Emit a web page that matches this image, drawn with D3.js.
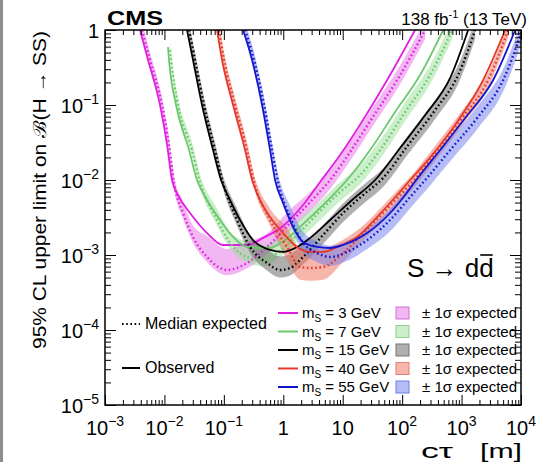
<!DOCTYPE html>
<html><head><meta charset="utf-8">
<script src="https://cdn.jsdelivr.net/npm/d3@7"></script>
<style>body{margin:0;background:#fff}svg{display:block}</style>
</head><body>
<svg id="chart" width="543" height="462"></svg>
<script>
// Limits on B(H->SS) versus c*tau, S -> d dbar, one set per scalar mass
const masses = ["3", "7", "15", "40", "55"];
const lineColors = ["#e21ee2", "#6cc86c", "#000000", "#e6382c", "#1515d0"];
const bandColors = ["rgba(230,110,230,0.5)", "rgba(150,223,150,0.5)", "rgba(110,110,110,0.55)", "rgba(238,110,87,0.5)", "rgba(110,123,238,0.5)"];
const bandStroke = ["#d070d0", "#90d090", "#777777", "#e08070", "#7080e0"];
const xTickLabels = [["10", "−3"], ["10", "−2"], ["10", "−1"], ["1", ""], ["10", ""], ["10", "2"], ["10", "3"], ["10", "4"]];
const yTickLabels = [["10", "−5"], ["10", "−4"], ["10", "−3"], ["10", "−2"], ["10", "−1"], ["1", ""]];

// m_S = 3 GeV
const ctObs3 = [0.00388, 0.0053, 0.00843, 0.0111, 0.0134, 0.0169, 0.027, 0.0522, 0.0969, 0.246, 0.457, 0.992, 2.15, 4.16, 9.04, 22.0, 55.9, 165];
const obs3 = [1, 0.398, 0.1, 0.0293, 0.01, 0.00631, 0.00363, 0.00196, 0.00136, 0.00136, 0.00169, 0.00244, 0.00464, 0.0094, 0.0215, 0.0631, 0.215, 1];
const ctExp3 = [0.0042, 0.00572, 0.00911, 0.01195, 0.0145, 0.0206, 0.0303, 0.0522, 0.113, 0.246, 0.534, 1.30, 3.05, 6.14, 13.3, 31.3, 82.4, 244];
const exp3 = [1, 0.398, 0.1, 0.0293, 0.00912, 0.00363, 0.00174, 0.00094, 0.000631, 0.000782, 0.00128, 0.00267, 0.00541, 0.01, 0.0236, 0.0671, 0.215, 1];
const lo3 = [0.832, 0.331, 0.0832, 0.0244, 0.00759, 0.00302, 0.00145, 0.0008, 0.000537, 0.000665, 0.00102, 0.00212, 0.00411, 0.00759, 0.0179, 0.0509, 0.1635, 0.759];
const hi3 = [1.26, 0.501, 0.126, 0.0369, 0.0115, 0.00513, 0.00246, 0.00179, 0.0012, 0.00149, 0.00194, 0.00404, 0.0073, 0.0135, 0.0318, 0.0905, 0.291, 1.35];

// m_S = 7 GeV
const ctObs7 = [0.0115, 0.01195, 0.01568, 0.02595, 0.03538, 0.05215, 0.0863, 0.1429, 0.2458, 0.5995, 1.072, 2.328, 5.679, 11.86, 28.93, 76.2, 200.9, 490];
const obs7 = [0.593, 0.398, 0.1, 0.0251, 0.01, 0.00541, 0.00293, 0.00174, 0.00128, 0.00124, 0.00158, 0.00275, 0.00541, 0.01, 0.0251, 0.0807, 0.2512, 1];
const ctExp7 = [0.01243, 0.01292, 0.01694, 0.02915, 0.03975, 0.07685, 0.1272, 0.2458, 0.4571, 0.8835, 1.918, 4.164, 9.04, 19.63, 42.63, 112.3, 296.1, 694.9];
const exp7 = [0.541, 0.398, 0.1, 0.0251, 0.0094, 0.00293, 0.00145, 0.00094, 0.000858, 0.00113, 0.00203, 0.00386, 0.00692, 0.01166, 0.0251, 0.0807, 0.2512, 1];
const lo7 = [0.45, 0.331, 0.0832, 0.0209, 0.00782, 0.00244, 0.00121, 0.000782, 0.000714, 0.00094, 0.00161, 0.00293, 0.00525, 0.00885, 0.0191, 0.0613, 0.191, 0.759];
const hi7 = [0.681, 0.501, 0.126, 0.0316, 0.01183, 0.00414, 0.00205, 0.00149, 0.00136, 0.00179, 0.00307, 0.00521, 0.00934, 0.01573, 0.0339, 0.1089, 0.339, 1.349];

// m_S = 15 GeV
const ctObs15 = [0.02402, 0.0303, 0.04295, 0.06579, 0.0897, 0.1272, 0.1874, 0.3102, 0.5995, 0.9922, 1.708, 2.827, 6.137, 14.39, 35.12, 92.5, 243.9, 642.9, 1292];
const obs15 = [1, 0.398, 0.1, 0.0251, 0.01, 0.00541, 0.00293, 0.00158, 0.00117, 0.0011, 0.00128, 0.00169, 0.00293, 0.00541, 0.01, 0.0267, 0.0736, 0.2291, 1];
const ctExp15 = [0.02595, 0.03274, 0.04642, 0.07112, 0.0969, 0.1668, 0.2762, 0.5337, 0.8835, 1.302, 2.154, 4.677, 10.15, 22.05, 47.86, 126.2, 359.4, 876.6, 1694];
const exp15 = [1, 0.398, 0.1, 0.0251, 0.00912, 0.00293, 0.00128, 0.000782, 0.000631, 0.000671, 0.00094, 0.00185, 0.00363, 0.00631, 0.01063, 0.0293, 0.0858, 0.2512, 1];
const lo15 = [0.832, 0.331, 0.0832, 0.0209, 0.00759, 0.00244, 0.00106, 0.000621, 0.000501, 0.000533, 0.000746, 0.0014, 0.00276, 0.00479, 0.00807, 0.0222, 0.0651, 0.191, 0.759];
const hi15 = [1.259, 0.501, 0.126, 0.0316, 0.01148, 0.00414, 0.00181, 0.00118, 0.000955, 0.00102, 0.00142, 0.0025, 0.0049, 0.00851, 0.01434, 0.0395, 0.1157, 0.339, 1.349];

// m_S = 40 GeV
const ctObs40 = [0.07685, 0.0933, 0.1429, 0.2275, 0.2984, 0.4068, 0.5995, 0.9922, 1.708, 2.827, 4.677, 8.05, 17.48, 37.94, 82.4, 136.4, 320, 843.3, 2310, 5420];
const obs40 = [1, 0.398, 0.1, 0.0251, 0.01, 0.00541, 0.00321, 0.00196, 0.00128, 0.0011, 0.0011, 0.00128, 0.00174, 0.00321, 0.00631, 0.01, 0.0215, 0.0593, 0.2154, 1];
const ctExp40 = [0.08305, 0.1008, 0.1544, 0.2458, 0.3224, 0.5995, 1.159, 1.918, 2.827, 4.677, 10.15, 22.05, 47.86, 92.5, 159.2, 373.6, 1024, 2805, 6088];
const exp40 = [1, 0.398, 0.1, 0.0251, 0.0094, 0.00293, 0.00128, 0.000692, 0.000671, 0.000692, 0.00106, 0.00196, 0.00363, 0.00631, 0.01, 0.0236, 0.0671, 0.2154, 1];
const lo40 = [0.832, 0.331, 0.0832, 0.0209, 0.00782, 0.00244, 0.000865, 0.000468, 0.000454, 0.000468, 0.000805, 0.00156, 0.00288, 0.00501, 0.00794, 0.0187, 0.0533, 0.171, 0.794];
const hi40 = [1.259, 0.501, 0.126, 0.0316, 0.01183, 0.00414, 0.00228, 0.00123, 0.00119, 0.00123, 0.0016, 0.00247, 0.00457, 0.00794, 0.01259, 0.0297, 0.0845, 0.271, 1.259];

// m_S = 55 GeV
const ctObs55 = [0.2105, 0.2984, 0.4397, 0.5995, 0.7278, 0.9922, 1.462, 2.154, 3.707, 6.137, 10.15, 25.76, 62.8, 112.3, 172.0, 436.3, 1150, 3404, 7989];
const obs55 = [1, 0.398, 0.1, 0.0251, 0.01, 0.00494, 0.00236, 0.00149, 0.00128, 0.00124, 0.00136, 0.00196, 0.00363, 0.00631, 0.01, 0.0251, 0.0671, 0.2154, 1];
const ctExp55 = [0.2275, 0.3224, 0.4752, 0.6479, 0.8176, 1.302, 2.154, 3.707, 6.137, 11.86, 25.76, 62.8, 136.4, 243.9, 642.9, 1831, 5016, 10480];
const exp55 = [1, 0.398, 0.1, 0.0251, 0.0094, 0.00321, 0.00145, 0.00106, 0.00094, 0.0011, 0.00158, 0.00293, 0.00593, 0.01, 0.0251, 0.0671, 0.2154, 1];
const lo55 = [0.832, 0.331, 0.0832, 0.0209, 0.00782, 0.00267, 0.0011, 0.000805, 0.000713, 0.000835, 0.0012, 0.00207, 0.0042, 0.00708, 0.0178, 0.0475, 0.1525, 0.708];
const hi55 = [1.259, 0.501, 0.126, 0.0316, 0.01183, 0.00454, 0.00205, 0.0015, 0.00133, 0.00155, 0.00223, 0.00414, 0.00838, 0.01413, 0.0355, 0.0948, 0.304, 1.413];

const series = [
  {ctObs: ctObs3, obs: obs3, ctExp: ctExp3, exp: exp3, lo: lo3, hi: hi3},
  {ctObs: ctObs7, obs: obs7, ctExp: ctExp7, exp: exp7, lo: lo7, hi: hi7},
  {ctObs: ctObs15, obs: obs15, ctExp: ctExp15, exp: exp15, lo: lo15, hi: hi15},
  {ctObs: ctObs40, obs: obs40, ctExp: ctExp40, exp: exp40, lo: lo40, hi: hi40},
  {ctObs: ctObs55, obs: obs55, ctExp: ctExp55, exp: exp55, lo: lo55, hi: hi55}
];

const FONT = "'Liberation Sans', Arial, Helvetica, sans-serif";
const svg = d3.select("#chart");
const L = 105, R = 521, T = 30, B = 405;

const x = d3.scaleLog().domain([1e-3, 1e4]).range([L, R]);
const y = d3.scaleLog().domain([1e-5, 1]).range([B, T]);

// thin grey strip at the left edge
svg.append("rect").attr("x", 0).attr("y", 0).attr("width", 3).attr("height", 462).attr("fill", "#8e8e8e");

svg.append("clipPath").attr("id", "plotclip").append("rect")
  .attr("x", L).attr("y", T).attr("width", R - L).attr("height", B - T);
const plot = svg.append("g").attr("clip-path", "url(#plotclip)");

const area = d3.area().x(d => x(d.c)).y0(d => y(d.lo)).y1(d => y(d.hi)).curve(d3.curveMonotoneX);
const line = d3.line().x(d => x(d[0])).y(d => y(d[1])).curve(d3.curveMonotoneX);

// +-1 sigma bands
series.forEach((s, i) => {
  const pts = s.ctExp.map((c, k) => ({c: c, lo: s.lo[k], hi: s.hi[k]}));
  plot.append("path").attr("d", area(pts)).attr("fill", bandColors[i]).attr("stroke", "none");
});
// median expected (dotted) and observed (solid)
series.forEach((s, i) => {
  plot.append("path").attr("d", line(s.ctExp.map((c, k) => [c, s.exp[k]])))
    .attr("fill", "none").attr("stroke", lineColors[i]).attr("stroke-width", 2.4)
    .attr("stroke-dasharray", "1.6,2.6").attr("stroke-linecap", "butt");
  plot.append("path").attr("d", line(s.ctObs.map((c, k) => [c, s.obs[k]])))
    .attr("fill", "none").attr("stroke", lineColors[i]).attr("stroke-width", 1.8);
});

// axes: ticks on all four sides
const decadesX = d3.range(-3, 5).map(e => Math.pow(10, e));
const decadesY = d3.range(-5, 1).map(e => Math.pow(10, e));
const minorX = [], minorY = [];
d3.range(-3, 4).forEach(e => { for (let m = 2; m <= 9; m++) minorX.push(m * Math.pow(10, e)); });
d3.range(-5, 0).forEach(e => { for (let m = 2; m <= 9; m++) minorY.push(m * Math.pow(10, e)); });

function tickAxis(axis, tx, ty) {
  const g = svg.append("g").attr("transform", `translate(${tx},${ty})`).call(axis);
  g.select(".domain").remove();
  g.selectAll("line").attr("stroke", "#000").attr("stroke-width", 1);
  g.selectAll("text").remove();
}
tickAxis(d3.axisBottom(x).tickValues(decadesX).tickSize(-10).tickFormat(""), 0, B);
tickAxis(d3.axisBottom(x).tickValues(minorX).tickSize(-5).tickFormat(""), 0, B);
tickAxis(d3.axisTop(x).tickValues(decadesX).tickSize(-10).tickFormat(""), 0, T);
tickAxis(d3.axisTop(x).tickValues(minorX).tickSize(-5).tickFormat(""), 0, T);
tickAxis(d3.axisLeft(y).tickValues(decadesY).tickSize(-11).tickFormat(""), L, 0);
tickAxis(d3.axisLeft(y).tickValues(minorY).tickSize(-6).tickFormat(""), L, 0);
tickAxis(d3.axisRight(y).tickValues(decadesY).tickSize(-11).tickFormat(""), R, 0);
tickAxis(d3.axisRight(y).tickValues(minorY).tickSize(-6).tickFormat(""), R, 0);

svg.append("rect").attr("x", L).attr("y", T).attr("width", R - L).attr("height", B - T)
  .attr("fill", "none").attr("stroke", "#000").attr("stroke-width", 1.5);

// tick labels
decadesX.forEach((v, i) => {
  const t = svg.append("text").attr("x", x(v)).attr("y", 435).attr("text-anchor", "middle")
    .attr("font-family", FONT).attr("font-size", 20).attr("fill", "#000");
  t.append("tspan").text(xTickLabels[i][0]);
  if (xTickLabels[i][1]) t.append("tspan").attr("dy", -9).attr("font-size", 14).text(xTickLabels[i][1]);
});
decadesY.forEach((v, i) => {
  const t = svg.append("text").attr("x", 99).attr("y", y(v) + 8).attr("text-anchor", "end")
    .attr("font-family", FONT).attr("font-size", 20).attr("fill", "#000");
  t.append("tspan").text(yTickLabels[i][0]);
  if (yTickLabels[i][1]) t.append("tspan").attr("dy", -9).attr("font-size", 14).text(yTickLabels[i][1]);
});

// axis titles
svg.append("text").attr("transform", "translate(46,190) rotate(-90)").attr("text-anchor", "middle")
  .attr("font-family", FONT).attr("font-size", 18).attr("textLength", 318).attr("lengthAdjust", "spacingAndGlyphs")
  .text("95% CL upper limit on ℬ(H → SS)");
svg.append("text").attr("x", 421).attr("y", 457.5).attr("font-family", FONT).attr("font-size", 20)
  .attr("textLength", 32).attr("lengthAdjust", "spacingAndGlyphs").text("cτ");
svg.append("text").attr("x", 480).attr("y", 457.5).attr("font-family", FONT).attr("font-size", 20)
  .attr("textLength", 42).attr("lengthAdjust", "spacingAndGlyphs").text("[m]");

// header
svg.append("text").attr("x", 107).attr("y", 25).attr("font-family", FONT).attr("font-weight", "bold")
  .attr("font-size", 21).attr("textLength", 56).attr("lengthAdjust", "spacingAndGlyphs").text("CMS");
{
  const t = svg.append("text").attr("x", 527).attr("y", 25).attr("text-anchor", "end")
    .attr("font-family", FONT).attr("font-size", 17);
  t.append("tspan").text("138 fb");
  t.append("tspan").attr("dy", -7).attr("font-size", 11).text("-1");
  t.append("tspan").attr("dy", 7).text(" (13 TeV)");
}

// process label
{
  const t = svg.append("text").attr("x", 407).attr("y", 277).attr("font-family", FONT).attr("font-size", 26);
  t.text("S → dd");
  const n = t.node();
  const ext = n.getExtentOfChar(5);
  svg.append("line").attr("x1", ext.x + 1).attr("x2", ext.x + ext.width - 1)
    .attr("y1", ext.y + 2).attr("y2", ext.y + 2).attr("stroke", "#000").attr("stroke-width", 1.6);
}

// legend: line styles
svg.append("line").attr("x1", 122).attr("x2", 140).attr("y1", 324).attr("y2", 324)
  .attr("stroke", "#000").attr("stroke-width", 2).attr("stroke-dasharray", "1.6,2.6");
svg.append("text").attr("x", 145).attr("y", 329).attr("font-family", FONT).attr("font-size", 16).text("Median expected");
svg.append("line").attr("x1", 122).attr("x2", 140).attr("y1", 368).attr("y2", 368)
  .attr("stroke", "#000").attr("stroke-width", 2);
svg.append("text").attr("x", 145).attr("y", 373).attr("font-family", FONT).attr("font-size", 16).text("Observed");

// legend: masses and bands
const rowY = [313, 331.5, 350, 368.5, 387];
masses.forEach((m, i) => {
  const ry = rowY[i];
  svg.append("line").attr("x1", 278).attr("x2", 298).attr("y1", ry).attr("y2", ry)
    .attr("stroke", lineColors[i]).attr("stroke-width", 2);
  const t = svg.append("text").attr("x", 302).attr("y", ry + 5).attr("font-family", FONT).attr("font-size", 15);
  t.append("tspan").text("m");
  t.append("tspan").attr("dy", 4).attr("font-size", 10).text("S");
  t.append("tspan").attr("dy", -4).text(` = ${m} GeV`);
  svg.append("rect").attr("x", 396).attr("y", ry - 6).attr("width", 13).attr("height", 12)
    .attr("fill", bandColors[i]).attr("stroke", bandStroke[i]).attr("stroke-width", 1);
  svg.append("text").attr("x", 422).attr("y", ry + 5).attr("font-family", FONT).attr("font-size", 15)
    .text("± 1σ expected");
});
</script>
</body></html>
